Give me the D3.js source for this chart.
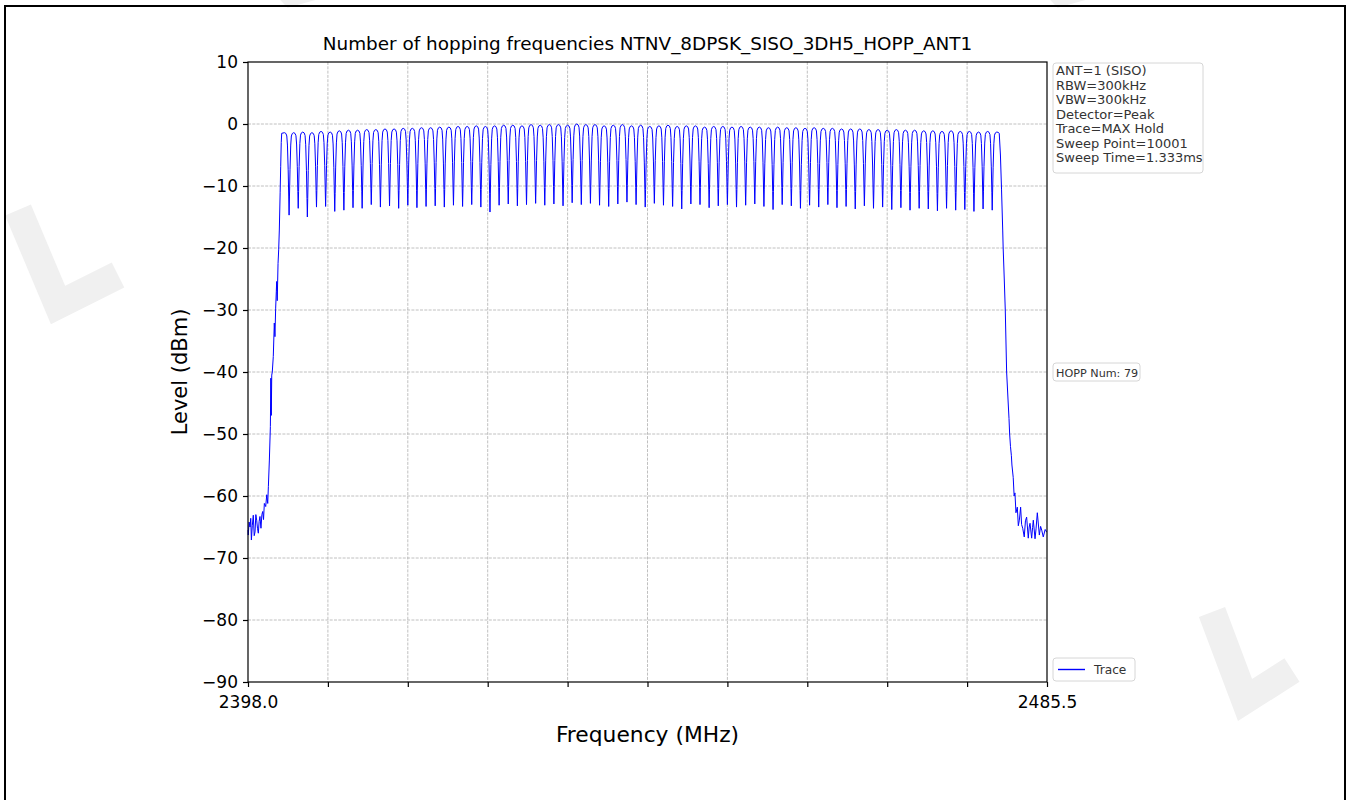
<!DOCTYPE html>
<html><head><meta charset="utf-8">
<script src="https://cdn.jsdelivr.net/npm/d3@7/dist/d3.min.js"></script>
<style>
body{margin:0;background:#fff;}
svg{display:block;font-family:"DejaVu Sans",sans-serif;}
</style></head>
<body><svg id="c" width="1351" height="800"></svg>
<script>
// ---------- data ----------
const title = "Number of hopping frequencies NTNV_8DPSK_SISO_3DH5_HOPP_ANT1";
const xLabel = "Frequency (MHz)";
const yLabel = "Level (dBm)";
const xDomain = [2398.0, 2485.5];
const xTickCount = 10;
const xTickLabels = ["2398.0", "2485.5"];
const yTicks = [10, 0, -10, -20, -30, -40, -50, -60, -70, -80, -90];
const infoLines = ["ANT=1 (SISO)", "RBW=300kHz", "VBW=300kHz", "Detector=Peak",
  "Trace=MAX Hold", "Sweep Point=10001", "Sweep Time=1.333ms"];
const hoppText = "HOPP Num: 79";
const legendLabel = "Trace";

const channelFreqs = [2402,2403,2404,2405,2406,2407,2408,2409,2410,2411,2412,2413,2414,2415,2416,2417,2418,2419,2420,2421,
  2422,2423,2424,2425,2426,2427,2428,2429,2430,2431,2432,2433,2434,2435,2436,2437,2438,2439,2440,2441,
  2442,2443,2444,2445,2446,2447,2448,2449,2450,2451,2452,2453,2454,2455,2456,2457,2458,2459,2460,2461,
  2462,2463,2464,2465,2466,2467,2468,2469,2470,2471,2472,2473,2474,2475,2476,2477,2478,2479,2480];
const peakLevels = [
  -1.4,-1.4,-1.3,-1.4,-1.2,-1.3,-1.1,-1.0,-1.0,-0.9,
  -0.9,-0.8,-0.8,-0.7,-0.7,-0.6,-0.6,-0.5,-0.5,-0.4,
  -0.4,-0.3,-0.4,-0.3,-0.2,-0.2,-0.3,-0.1,-0.2,-0.1,
  -0.1,-0.2, 0.0,-0.1,-0.1,-0.3,-0.2,-0.1,-0.3,-0.2,
  -0.4,-0.3,-0.2,-0.4,-0.3,-0.3,-0.5,-0.4,-0.4,-0.5,
  -0.4,-0.5,-0.5,-0.6,-0.5,-0.6,-0.6,-0.7,-0.6,-0.7,
  -0.7,-0.8,-0.8,-0.8,-0.9,-0.9,-1.0,-0.9,-1.0,-1.0,
  -1.1,-1.1,-1.2,-1.1,-1.2,-1.2,-1.3,-1.2,-1.3];
const dipLevels = [
  -14.7,-13.6,-15.0,-13.4,-13.3,-14.1,-13.9,-13.5,-13.6,-13.0,
  -13.4,-13.2,-13.6,-13.1,-13.5,-13.3,-13.2,-13.4,-13.1,-13.3,
  -13.0,-13.4,-14.2,-13.1,-12.9,-13.2,-13.0,-12.8,-13.1,-12.9,
  -13.2,-12.7,-13.0,-12.8,-13.1,-13.3,-12.9,-12.6,-13.0,-13.4,
  -12.8,-13.1,-13.3,-13.7,-12.9,-13.0,-13.5,-13.2,-13.0,-13.4,
  -13.1,-12.9,-13.3,-13.8,-13.0,-13.2,-13.6,-13.1,-13.4,-13.0,
  -13.5,-13.3,-13.7,-13.2,-13.6,-13.4,-13.8,-13.5,-13.9,-13.6,
  -13.7,-14.0,-13.6,-13.9,-13.8,-14.1,-13.7,-13.9];
// left band edge: noise floor and skirt
const leftEdgeFreqs = [2398.0,2398.03,2398.12,2398.22,2398.3,2398.37,2398.47,2398.58,2398.68,2398.77,2398.86,2398.95,
  2399.04,2399.13,2399.22,2399.31,2399.42,2399.52,2399.61,2399.7,2399.79,2399.94,2400.05,2400.16,2400.23,
  2400.34,2400.45,2400.5,2400.55,2400.6,2400.66,2400.77,2400.88,2400.95,2401.03,2401.1,2401.14,2401.2,
  2401.29,2401.36,2401.43,2401.52,2401.58,2401.64,2401.69];
const leftEdgeLevels = [-65.5,-66.3,-64.2,-65.0,-63.6,-67.1,-64.8,-63.1,-66.4,-65.8,-63.0,-63.9,
  -65.2,-66.0,-64.1,-63.3,-65.2,-63.0,-62.5,-63.8,-61.2,-61.7,-59.8,-61.2,-58.5,
  -54.2,-48.8,-41.0,-47.0,-40.5,-40.0,-37.5,-32.1,-34.3,-29.7,-27.0,-25.4,-28.5,
  -22.5,-20.3,-17.1,-11.0,-6.9,-3.0,-1.5];
// right band edge: skirt and noise floor
const rightEdgeFreqs = [2480.27,2480.4,2480.52,2480.65,2480.7,2480.82,2480.93,2481.08,2481.25,2481.34,2481.41,
  2481.5,2481.6,2481.66,2481.8,2481.9,2481.99,2482.1,2482.25,2482.36,2482.47,2482.61,2482.72,2482.84,
  2483.01,2483.14,2483.27,2483.45,2483.55,2483.64,2483.82,2483.92,2484.0,2484.19,2484.3,2484.44,
  2484.66,2484.8,2484.92,2485.09,2485.3,2485.46,2485.5];
const rightEdgeLevels = [-1.5,-5.0,-10.5,-17.1,-20.0,-25.0,-30.0,-40.0,-45.0,-47.5,-50.0,
  -52.0,-53.5,-55.0,-57.0,-60.0,-59.5,-62.7,-61.8,-64.8,-63.9,-61.8,-64.6,-65.2,
  -66.6,-64.0,-63.4,-66.8,-65.0,-64.4,-66.8,-65.1,-63.9,-66.9,-65.3,-62.7,
  -66.3,-64.9,-65.5,-66.6,-65.4,-65.8,-65.8];

// ---------- layout ----------
const svg = d3.select("#c");
const L = 248, R = 1047, T = 62, B = 682;
const x = d3.scaleLinear().domain(xDomain).range([L, R]);
const y = d3.scaleLinear().domain([-90, 10]).range([B, T]);

// watermark decorations
const wm = svg.append("g").attr("fill", "none").attr("stroke", "#f0f0f0")
  .attr("stroke-width", 28).attr("stroke-linejoin", "miter");
wm.append("path").attr("d", "M18,210 L58,305 L118,275");
wm.append("path").attr("d", "M1212,612 L1245,700 L1292,670");
wm.append("path").attr("d", "M272,-30 L292,-8 L335,-20");
wm.append("path").attr("d", "M1042,-30 L1062,-8 L1105,-20");

// outer frame
svg.append("rect").attr("x", 5).attr("y", 6).attr("width", 1340).attr("height", 820)
  .attr("fill", "none").attr("stroke", "#000").attr("stroke-width", 2);

// grid
const xTicks = d3.range(xTickCount + 1).map(i => xDomain[0] + (xDomain[1] - xDomain[0]) * i / xTickCount);
const grid = svg.append("g").attr("stroke", "#b0b0b0").attr("stroke-width", 0.8)
  .attr("stroke-dasharray", "3,1.3");
grid.selectAll("line.gx").data(xTicks.slice(1, -1)).join("line")
  .attr("x1", d => x(d)).attr("x2", d => x(d)).attr("y1", T).attr("y2", B);
grid.selectAll("line.gy").data(yTicks.filter(d => d > -90 && d < 10)).join("line")
  .attr("x1", L).attr("x2", R).attr("y1", d => y(d)).attr("y2", d => y(d));

// trace
const shapeOff = [0.46, 0.40, 0.32, 0.25, 0.15];
const shapeW = [0.78, 0.45, 0.15, 0.04, 0.01];
const pts = leftEdgeFreqs.map((f, i) => [f, leftEdgeLevels[i]]);
channelFreqs.forEach((f, i) => {
  const p = peakLevels[i];
  if (i > 0) {
    const d = dipLevels[i - 1];
    shapeOff.forEach((o, k) => pts.push([f - o, p + (d - p) * shapeW[k]]));
  }
  pts.push([f, p]);
  if (i < channelFreqs.length - 1) {
    const d = dipLevels[i];
    for (let k = shapeOff.length - 1; k >= 0; k--) pts.push([f + shapeOff[k], p + (d - p) * shapeW[k]]);
    pts.push([f + 0.5, d]);
  } else {
    pts.push([f + 0.15, p - 0.05]);
  }
});
rightEdgeFreqs.forEach((f, i) => pts.push([f, rightEdgeLevels[i]]));
svg.append("path").datum(pts)
  .attr("fill", "none").attr("stroke", "#0000ff").attr("stroke-width", 1)
  .attr("stroke-linejoin", "round")
  .attr("d", d3.line().x(d => x(d[0])).y(d => y(d[1])));

// axes frame
svg.append("rect").attr("x", L).attr("y", T).attr("width", R - L).attr("height", B - T)
  .attr("fill", "none").attr("stroke", "#000").attr("stroke-width", 1.2);

// x axis
const xa = d3.axisBottom(x).tickValues(xTicks).tickSize(5).tickPadding(9)
  .tickFormat((d, i) => i === 0 ? xTickLabels[0] : (i === xTicks.length - 1 ? xTickLabels[1] : ""));
const gx = svg.append("g").attr("transform", `translate(0,${B})`).call(xa);
gx.select(".domain").remove();
gx.selectAll("line").attr("stroke", "#000").attr("stroke-width", 1.2);
gx.selectAll("text").attr("font-size", 17).attr("fill", "#000").attr("font-family", "DejaVu Sans");

// y axis
const ya = d3.axisLeft(y).tickValues(yTicks).tickSize(5).tickPadding(5)
  .tickFormat(d => d < 0 ? "\u2212" + Math.abs(d) : String(d));
const gy = svg.append("g").attr("transform", `translate(${L},0)`).call(ya);
gy.select(".domain").remove();
gy.selectAll("line").attr("stroke", "#000").attr("stroke-width", 1.2);
gy.selectAll("text").attr("font-size", 17).attr("fill", "#000").attr("font-family", "DejaVu Sans");

// title and labels
svg.append("text").attr("x", (L + R) / 2).attr("y", 50).attr("text-anchor", "middle")
  .attr("font-size", 18.4).text(title);
svg.append("text").attr("x", (L + R) / 2).attr("y", 742).attr("text-anchor", "middle")
  .attr("font-size", 21.8).text(xLabel);
svg.append("text").attr("transform", `translate(187,${(T + B) / 2}) rotate(-90)`)
  .attr("text-anchor", "middle").attr("font-size", 21).text(yLabel);

// info box
svg.append("rect").attr("x", 1053).attr("y", 63).attr("width", 150).attr("height", 110)
  .attr("rx", 3).attr("fill", "#fff").attr("stroke", "#d6d6d6");
svg.append("g").selectAll("text").data(infoLines).join("text")
  .attr("x", 1056).attr("y", (d, i) => 75 + i * 14.5).attr("font-size", 13)
  .attr("fill", "#333").text(d => d);

// HOPP box
svg.append("rect").attr("x", 1053).attr("y", 363).attr("width", 87).attr("height", 18)
  .attr("rx", 3).attr("fill", "#fff").attr("stroke", "#d6d6d6");
svg.append("text").attr("x", 1056).attr("y", 376.5).attr("font-size", 11.2).attr("fill", "#333").text(hoppText);

// legend
svg.append("rect").attr("x", 1053).attr("y", 658).attr("width", 82).attr("height", 23)
  .attr("rx", 3).attr("fill", "#fff").attr("stroke", "#d6d6d6");
svg.append("line").attr("x1", 1058).attr("x2", 1085).attr("y1", 669.5).attr("y2", 669.5)
  .attr("stroke", "#0000ff").attr("stroke-width", 1.4);
svg.append("text").attr("x", 1094).attr("y", 674).attr("font-size", 12.2).attr("fill", "#333").text(legendLabel);
</script></body></html>
